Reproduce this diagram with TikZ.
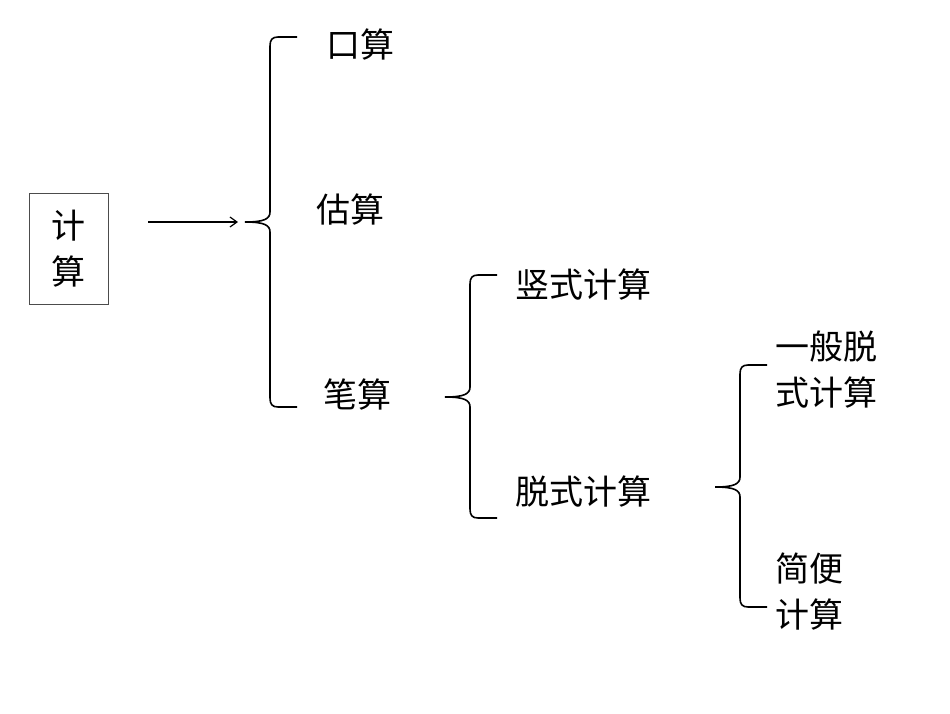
\documentclass[tikz,border=0pt]{standalone}
\usepackage{fontspec}
\usetikzlibrary{arrows.meta}
\newfontfamily\cjk{Noto Sans CJK SC}
\tikzset{lbl/.style={font=\cjk\fontsize{34}{46}\selectfont,inner sep=0pt,anchor=west,align=left},
brc/.style={line width=1.6pt}}
\begin{document}
\begin{tikzpicture}[x=1pt,y=-1pt]
\useasboundingbox (0,0) rectangle (950,713);
\node[draw=black!70,line width=0.8pt,minimum width=79pt,minimum height=111pt,font=\cjk\fontsize{34}{46}\selectfont,align=center,inner sep=0pt] (root) at (68.5,248.5) {计\\算};
\coordinate (ae) at (238,222);
\draw[line width=1.2pt,-{Straight Barb[length=7pt,width=10pt]}] (148,222) -- (ae);
% brace 1
\draw[brc] (297,37) -- (278,37) .. controls (272,37) and (270,40) .. (270,46) -- (270,212) .. controls (270,219) and (264,222) .. (245,222) .. controls (264,222) and (270,225) .. (270,232) -- (270,398) .. controls (270,404) and (272,407) .. (278,407) -- (297,407);
% brace 2
\draw[brc] (497,275) -- (478,275) .. controls (472,275) and (470,278) .. (470,284) -- (470,387) .. controls (470,394) and (464,397) .. (445,397) .. controls (464,397) and (470,400) .. (470,407) -- (470,509) .. controls (470,515) and (472,518) .. (478,518) -- (497,518);
% brace 3
\draw[brc] (767,365) -- (748,365) .. controls (742,365) and (740,368) .. (740,374) -- (740,477) .. controls (740,484) and (734,487) .. (715,487) .. controls (734,487) and (740,490) .. (740,497) -- (740,598) .. controls (740,604) and (742,607) .. (748,607) -- (767,607);
\node[lbl] (a) at (326,45) {口算};
\node[lbl] (b) at (316,210) {估算};
\node[lbl] (c) at (323,395) {笔算};
\node[lbl] (d) at (515,285) {竖式计算};
\node[lbl] (e) at (515,492) {脱式计算};
\node[lbl] (f) at (775,370) {一般脱\\式计算};
\node[lbl] (g) at (775,592) {简便\\计算};
\end{tikzpicture}
\end{document}
